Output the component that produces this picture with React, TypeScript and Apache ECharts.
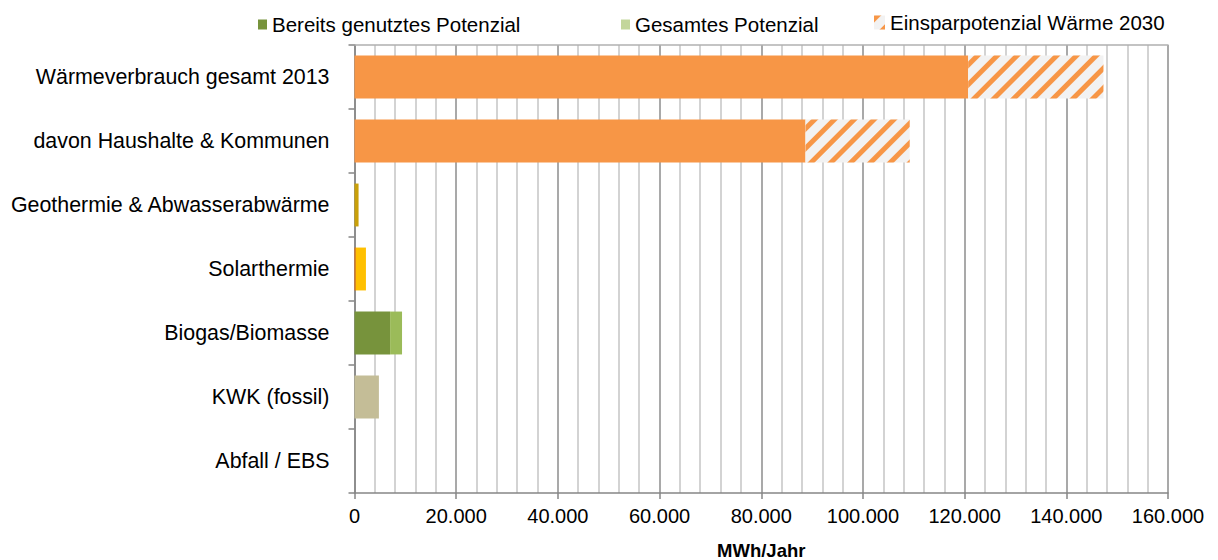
import React, { useEffect, useRef } from "react";
import * as echarts from "echarts";

const categories = [
  "Wärmeverbrauch gesamt 2013",
  "davon Haushalte & Kommunen",
  "Geothermie & Abwasserabwärme",
  "Solarthermie",
  "Biogas/Biomasse",
  "KWK (fossil)",
  "Abfall / EBS",
];
const usedValues = [120700, 88700, 0, 250, 7000, 4800, 0];
const usedColors = ["#F79646", "#F79646", "#C9A00A", "#E46C0A", "#77933C", "#C4BD97", "#77933C"];
const extraValues = [0, 0, 800, 2000, 2350, 0, 0];
const extraColors = ["#9BBB59", "#9BBB59", "#C9A00A", "#FFC000", "#9BBB59", "#9BBB59", "#9BBB59"];
const savingValues = [26600, 20500, 0, 0, 0, 0, 0];
const xMin = 0;
const xMax = 160000;
const xStep = 20000;

const seriesNames = ["Bereits genutztes Potenzial", "Gesamtes Potenzial", "Einsparpotenzial Wärme 2030"];

const FONT = "'Liberation Sans', Arial, sans-serif";

const fmt = (v: number) => String(v).replace(/\B(?=(\d{3})+(?!\d))/g, ".");

export default function App() {
  const ref = useRef<HTMLDivElement>(null);
  useEffect(() => {
    if (!ref.current) return;
    const chart = echarts.init(ref.current, undefined, { renderer: "svg" });
    const hatch = {
      symbol: "rect",
      symbolSize: 1,
      color: "#F79646",
      dashArrayX: [1, 0],
      dashArrayY: [5, 9],
      rotation: -Math.PI / 4,
    };
    const legendText = { fontFamily: FONT, fontSize: 20.5, color: "#000" };
    chart.setOption({
      animation: false,
      textStyle: { fontFamily: FONT },
      legend: [
        {
          data: [seriesNames[0]],
          left: 253,
          top: 9,
          icon: "rect",
          itemWidth: 9,
          itemHeight: 10,
          textStyle: legendText,
          selectedMode: false,
        },
        {
          data: [seriesNames[1]],
          left: 616,
          top: 9,
          icon: "rect",
          itemWidth: 9,
          itemHeight: 10,
          textStyle: legendText,
          selectedMode: false,
        },
        {
          data: [seriesNames[2]],
          left: 869,
          top: 7,
          icon: "rect",
          itemWidth: 11,
          itemHeight: 14,
          textStyle: legendText,
          selectedMode: false,
        },
      ],
      grid: {
        left: 354.5,
        right: 50,
        top: 45,
        bottom: 67,
        containLabel: false,
        outerBoundsMode: "none",
      },
      xAxis: [
        {
          type: "value",
          min: xMin,
          max: xMax,
          interval: xStep,
          name: "MWh/Jahr",
          nameLocation: "middle",
          nameGap: 48,
          nameTextStyle: { fontFamily: FONT, fontSize: 18.5, fontWeight: "bold", color: "#000" },
          axisLine: { show: true, lineStyle: { color: "#868686", width: 1.5 } },
          axisTick: { show: true, length: 6, lineStyle: { color: "#868686", width: 1.5 } },
          axisLabel: { fontFamily: FONT, fontSize: 20, color: "#000", margin: 13, formatter: fmt },
          splitLine: { show: true, lineStyle: { color: "#8C8C8C", width: 1.5 } },
          minorTick: { show: false, splitNumber: 5 },
          minorSplitLine: { show: true, lineStyle: { color: "#C4C4C4", width: 1.5 } },
        },
        {
          type: "value",
          position: "top",
          min: xMin,
          max: xMax,
          interval: xStep,
          axisLine: { show: true, lineStyle: { color: "#B0B0B0", width: 1.5 } },
          axisTick: { show: false },
          axisLabel: { show: false },
          splitLine: { show: false },
        },
      ],
      yAxis: {
        type: "category",
        data: categories,
        inverse: true,
        axisLine: { show: true, lineStyle: { color: "#868686", width: 1.5 } },
        axisTick: { show: true, length: 6, inside: false, lineStyle: { color: "#868686", width: 1.5 } },
        axisLabel: { fontFamily: FONT, fontSize: 21.4, color: "#000", margin: 25 },
        splitLine: { show: false },
      },
      series: [
        {
          name: seriesNames[0],
          type: "bar",
          stack: "total",
          barWidth: "67%",
          itemStyle: { color: "#77933C" },
          data: usedValues.map((v, i) => ({ value: v, itemStyle: { color: usedColors[i] } })),
        },
        {
          name: seriesNames[1],
          type: "bar",
          stack: "total",
          barWidth: "67%",
          itemStyle: { color: "#C3D69B" },
          data: extraValues.map((v, i) => ({ value: v, itemStyle: { color: extraColors[i] } })),
        },
        {
          name: seriesNames[2],
          type: "bar",
          stack: "total",
          barWidth: "67%",
          itemStyle: { color: "#F2F2F2", decal: hatch },
          data: savingValues,
        },
      ],
    });
    return () => chart.dispose();
  }, []);
  return (
    <div
      ref={ref}
      style={{ position: "fixed", left: 0, top: 0, width: 1218, height: 560, background: "#fff" }}
    />
  );
}
